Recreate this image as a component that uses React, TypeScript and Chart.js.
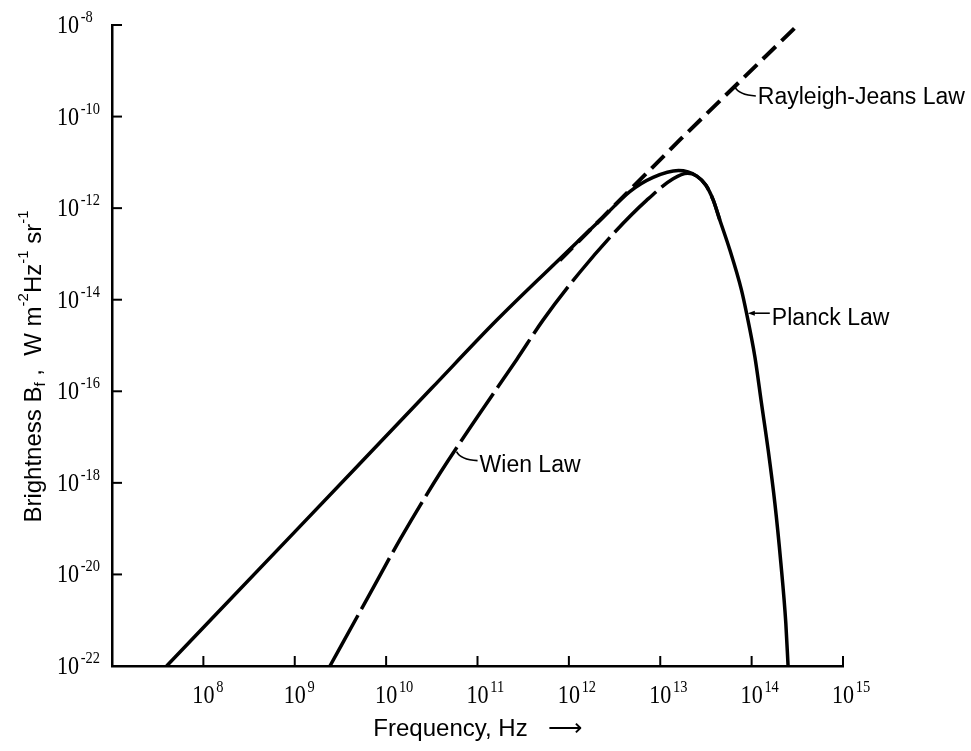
import React, { useEffect, useRef } from "react";
import { Chart, registerables } from "chart.js";

Chart.register(...registerables);

// Planck law curve (frequency Hz, brightness W m^-2 Hz^-1 sr^-1)
const planckFreq = [3.963e7, 1.0e9, 3.162e10, 1.618e11, 6.31e11, 2.371e12, 4.645e12, 8.356e12, 1.585e13, 2.512e13, 3.162e13, 3.793e13, 4.487e13, 5.768e13, 7.745e13, 8.79e13, 1.084e14, 1.282e14, 1.517e14, 1.795e14, 2.089e14, 2.366e14, 2.506e14];
const planckB = [1.0e-22, 8.51e-20, 1.175e-16, 3.548e-15, 5.01e-14, 6.31e-13, 2.291e-12, 4.677e-12, 6.607e-12, 5.012e-12, 3.162e-12, 1.514e-12, 5.495e-13, 1.23e-13, 1.622e-14, 5.129e-15, 5.754e-16, 5.495e-17, 5.248e-18, 3.631e-19, 1.778e-20, 8.71e-22, 1.0e-22];

// Wien law curve
const wienFreq = [2.427e9, 6.124e9, 1.416e10, 3.882e10, 1.062e11, 2.679e11, 5.236e11, 1.318e12, 3.055e12, 7.079e12, 1.384e13, 1.995e13, 2.512e13, 3.162e13, 3.793e13, 4.487e13];
const wienB = [1.0e-22, 2.818e-21, 5.754e-20, 1.622e-18, 3.311e-17, 4.898e-16, 3.631e-15, 3.981e-14, 2.754e-13, 1.479e-12, 4.365e-12, 5.754e-12, 5.012e-12, 3.162e-12, 1.514e-12, 5.495e-13];

// Rayleigh-Jeans law line
const rjFreq = [7.943e11, 2.344e12, 1.637e13, 3.199e14];
const rjB = [7.244e-14, 6.31e-13, 3.09e-11, 1.0e-8];

// Axis ticks and their power-of-ten exponents
const xTicks = [1e8, 1e9, 1e10, 1e11, 1e12, 1e13, 1e14, 1e15];
const xTickExps = ["8", "9", "10", "11", "12", "13", "14", "15"];
const yTicks = [1e-22, 1e-20, 1e-18, 1e-16, 1e-14, 1e-12, 1e-10, 1e-8];
const yTickExps = ["-22", "-20", "-18", "-16", "-14", "-12", "-10", "-8"];

const xTitle = "Frequency, Hz   ⟶";

// Curve labels, anchored on the curves in data space
const annLabels = ["Rayleigh-Jeans Law", "Planck Law", "Wien Law"];
const annFreq = [6.55e13, 9.08e13, 5.9e10];
const annB = [4.43e-10, 5.07e-15, 4.82e-18];

const SANS = "'Liberation Sans', Arial, sans-serif";
const SERIF = "'Liberation Serif', 'Times New Roman', serif";

const pts = (xs: number[], ys: number[]) => xs.map((x, i) => ({ x, y: ys[i] }));

// draws "10" with a raised exponent; (x, baseY) is the base point of "10"
function drawPow(ctx: CanvasRenderingContext2D, exp: string, x: number, baseY: number, centered: boolean) {
  const sx = 0.85;
  ctx.save();
  ctx.font = `26px ${SERIF}`;
  const w10 = ctx.measureText("10").width;
  const start = centered ? x - (w10 * sx) / 2 : x;
  ctx.translate(start, baseY);
  ctx.scale(sx, 1);
  ctx.textAlign = "left";
  ctx.textBaseline = "alphabetic";
  ctx.fillText("10", 0, 0);
  ctx.font = `17px ${SERIF}`;
  ctx.fillText(exp, w10 + 2, -11);
  ctx.restore();
}

const decorPlugin = {
  id: "decor",
  afterDraw(chart: any) {
    const ctx = chart.ctx as CanvasRenderingContext2D;
    const xs = chart.scales.x;
    const ys = chart.scales.y;
    const { left, bottom, top } = chart.chartArea;
    ctx.save();
    ctx.fillStyle = "#000";
    // inward tick marks and tick labels
    ctx.strokeStyle = "#000";
    ctx.lineWidth = 2;
    xTicks.forEach((v, i) => {
      const px = xs.getPixelForValue(v);
      ctx.beginPath();
      ctx.moveTo(px, bottom);
      ctx.lineTo(px, bottom - 10);
      ctx.stroke();
      drawPow(ctx, xTickExps[i], px, bottom + 37, true);
    });
    yTicks.forEach((v, i) => {
      const py = ys.getPixelForValue(v);
      ctx.beginPath();
      ctx.moveTo(left, py);
      ctx.lineTo(left + 10, py);
      ctx.stroke();
      drawPow(ctx, yTickExps[i], ys.left, py + 8, false);
    });

    // curve labels with leaders
    ctx.font = `23px ${SANS}`;
    ctx.textAlign = "left";
    ctx.textBaseline = "alphabetic";
    ctx.lineWidth = 1.6;
    annLabels.forEach((label, i) => {
      const ax = xs.getPixelForValue(annFreq[i]);
      const ay = ys.getPixelForValue(annB[i]);
      ctx.beginPath();
      if (i === 1) {
        ctx.moveTo(ax + 5, ay);
        ctx.lineTo(ax + 22, ay);
        ctx.stroke();
        ctx.beginPath();
        ctx.moveTo(ax, ay);
        ctx.lineTo(ax + 7, ay - 2.5);
        ctx.lineTo(ax + 7, ay + 2.5);
        ctx.closePath();
        ctx.fill();
        ctx.fillText(label, ax + 24, ay + 12);
      } else {
        ctx.moveTo(ax, ay);
        ctx.quadraticCurveTo(ax + 4, ay + 8, ax + 21, ay + 9);
        ctx.stroke();
        ctx.fillText(label, ax + 23, ay + (i === 0 ? 17 : 20));
      }
    });

    // y axis title with sub/superscripts
    const segs: [string, number, number][] = [
      ["Brightness B", 24, 0],
      ["f", 15, 4],
      [" ,  W m", 24, 0],
      ["-2", 15, -13],
      ["Hz", 24, 0],
      ["-1", 15, -13],
      [" sr", 24, 0],
      ["-1", 15, -13],
    ];
    let total = 0;
    segs.forEach(([t, s]) => {
      ctx.font = `${s}px ${SANS}`;
      total += ctx.measureText(t).width;
    });
    const cy = (top + bottom) / 2 + 21;
    ctx.translate(41, cy + total / 2);
    ctx.rotate(-Math.PI / 2);
    let x = 0;
    segs.forEach(([t, s, dy]) => {
      ctx.font = `${s}px ${SANS}`;
      ctx.fillText(t, x, dy);
      x += ctx.measureText(t).width;
    });
    ctx.restore();
  },
};

export default function App() {
  const ref = useRef<HTMLCanvasElement | null>(null);
  useEffect(() => {
    if (!ref.current) return;
    const chart = new Chart(ref.current, {
      type: "line",
      data: {
        datasets: [
          {
            label: "Planck Law",
            data: pts(planckFreq, planckB),
            borderColor: "#000",
            borderWidth: 3.5,
            pointRadius: 0,
            cubicInterpolationMode: "monotone",
            fill: false,
          },
          {
            label: "Wien Law",
            data: pts(wienFreq, wienB),
            borderColor: "#000",
            borderWidth: 3.5,
            borderDash: [58, 7],
            pointRadius: 0,
            cubicInterpolationMode: "monotone",
            fill: false,
          },
          {
            label: "Rayleigh-Jeans Law",
            data: pts(rjFreq, rjB),
            borderColor: "#000",
            borderWidth: 4,
            borderDash: [18, 8],
            pointRadius: 0,
            tension: 0,
            fill: false,
          },
        ],
      },
      options: {
        responsive: false,
        devicePixelRatio: 1,
        animation: false,
        layout: { padding: { left: 57, top: 25, right: 128, bottom: 0 } },
        plugins: { legend: { display: false }, tooltip: { enabled: false } },
        scales: {
          x: {
            type: "logarithmic",
            min: 1e7,
            max: 1e15,
            afterBuildTicks: (s: any) => {
              s.ticks = xTicks.map((v) => ({ value: v }));
            },
            afterFit: (s: any) => {
              s.height = 85;
            },
            grid: { display: false, drawTicks: false },
            border: { display: true, color: "#000", width: 2.5 },
            ticks: { display: false },
            title: {
              display: true,
              text: xTitle,
              color: "#000",
              font: { family: SANS, size: 24 },
              padding: { top: 0, bottom: 7 },
            },
          },
          y: {
            type: "logarithmic",
            min: 1e-22,
            max: 1e-8,
            afterBuildTicks: (s: any) => {
              s.ticks = yTicks.map((v) => ({ value: v }));
            },
            afterFit: (s: any) => {
              s.width = 55;
            },
            grid: { display: false, drawTicks: false },
            border: { display: true, color: "#000", width: 2.5 },
            ticks: { display: false },
          },
        },
      },
      plugins: [decorPlugin],
    } as any);
    return () => chart.destroy();
  }, []);
  return (
    <div style={{ position: "absolute", left: 0, top: 0, width: 971, height: 751, background: "#fff" }}>
      <canvas ref={ref} width={971} height={751} style={{ display: "block" }} />
    </div>
  );
}
